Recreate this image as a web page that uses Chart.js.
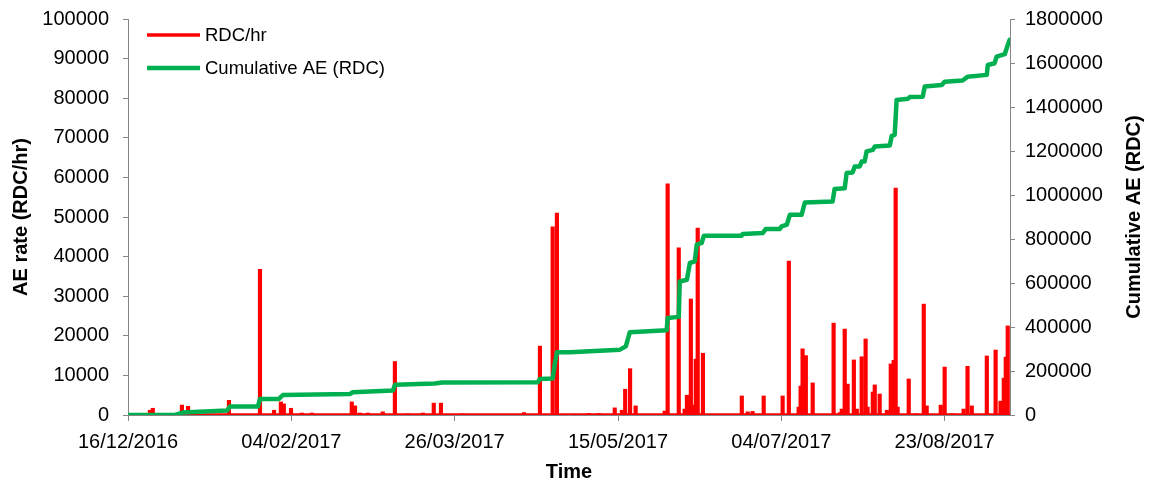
<!DOCTYPE html>
<html>
<head>
<meta charset="utf-8">
<script src="https://cdn.jsdelivr.net/npm/chart.js@4"></script>
<style>
  html, body { margin: 0; padding: 0; background: #fff; }
  #wrap { width: 1150px; height: 486px; position: relative; }
</style>
</head>
<body>
<div id="wrap"><canvas id="aeChart"></canvas></div>
<script>
// x values are days since 16/12/2016
const xTickDays = [0, 50, 100, 150, 200, 250];
const xTickLabels = ['16/12/2016', '04/02/2017', '26/03/2017', '15/05/2017', '04/07/2017', '23/08/2017'];

// AE rate spikes (RDC/hr)
const rateDays = [6.7, 7.6, 16.5, 18.4, 30.9, 40.4, 44.7, 46.8, 47.7, 49.9, 53.2, 56.3,
  68.5, 69.5, 71.0, 73.4, 78.0, 81.7, 85.7, 90.3, 93.6, 95.8, 102.5, 121.2, 126.1, 130.0, 131.3,
  141.1, 144.1, 149.0, 151.2, 152.2, 153.7, 155.4, 164.3, 165.2, 168.6, 170.4, 171.1, 172.3, 172.9,
  173.8, 174.4, 176.0, 187.9, 189.7, 191.2, 194.6, 200.4, 202.3, 205.3, 205.9, 206.5, 207.5, 209.6,
  216.0, 217.9, 218.5, 219.4, 220.3, 222.2, 223.1, 224.6, 225.8, 226.4, 228.0, 228.6, 230.1, 232.3,
  233.5, 234.4, 235.0, 235.6, 239.0, 241.4, 243.6, 244.5, 248.8, 250.0, 252.4, 255.8, 257.0, 258.3,
  262.9, 265.6, 267.1, 268.1, 268.7, 269.3];
const rateValues = [1200, 1700, 2500, 2200, 3700, 36800, 1200, 3300, 2800, 1700, 500, 500,
  3300, 2300, 500, 500, 800, 13500, 300, 500, 3000, 3000, 300, 600, 17400, 47500, 51000,
  400, 400, 1800, 1200, 6500, 11700, 2300, 1000, 58400, 42200, 1500, 5000, 29300, 2500,
  14100, 47200, 15600, 4800, 800, 900, 4800, 4800, 38900, 2000, 7300, 16700, 15000, 8100,
  23200, 600, 1500, 21700, 7800, 13900, 1500, 14700, 19200, 2000, 5800, 7600, 5300, 1200,
  12900, 13800, 57300, 2000, 9100, 300, 28000, 2300, 2500, 12100, 300, 1500, 12300, 2300,
  14900, 16400, 3500, 9300, 14600, 22500];
// background rate between events
const baseDays = [0, 270];
const baseValues = [0, 0];

// cumulative AE (RDC)
const cumDays = [0, 14.4, 16.8, 30.3, 31.2, 39.8, 40.4, 46.2, 47.4, 67.9, 68.8, 81.1, 81.7,
  93.9, 96.1, 125.5, 126.1, 130.0, 130.7, 131.3, 135.3, 150.6, 152.4, 153.6, 164.9, 165.2,
  168.6, 168.9, 171.1, 172.0, 173.5, 174.1, 175.6, 176.3, 187.9, 188.2, 194.3, 195.2, 199.5,
  200.1, 201.7, 202.6, 206.2, 207.2, 215.7, 216.3, 219.4, 220.0, 221.8, 222.5, 224.0, 224.6,
  225.5, 226.1, 228.0, 228.6, 233.2, 233.8, 234.7, 235.3, 238.7, 239.3, 243.3, 243.9, 249.1,
  250.0, 255.5, 257.0, 262.9, 263.2, 265.3, 265.9, 268.4, 269.3, 269.9];
const cumValues = [0, 0, 11000, 20000, 39000, 39000, 73000, 73000, 91000, 95000, 103500, 111000, 137000,
  143000, 147500, 149000, 164000, 166000, 237000, 285000, 285000, 297000, 312000, 376000, 385000, 441000,
  446000, 607000, 615000, 691000, 698000, 774000, 782000, 815000, 815000, 823000, 827000, 845000, 845000,
  857000, 865000, 910000, 910000, 966000, 971000, 1027000, 1031000, 1100000, 1102000, 1130000, 1130000, 1152000,
  1152000, 1198000, 1205000, 1220000, 1225000, 1269000, 1273000, 1432000, 1437000, 1445000, 1447000, 1493000, 1500000,
  1515000, 1520000, 1538000, 1546000, 1591000, 1599000, 1629000, 1640000, 1682000, 1705000];

const fontFamily = '"Liberation Sans", Arial, sans-serif';
Chart.defaults.font.family = fontFamily;
Chart.defaults.color = '#000';

const axisGrey = '#868686';

function xy(xs, ys) {
  return xs.map((x, i) => ({ x: x, y: ys[i] }));
}

// legend inside the plot + right axis title reading bottom to top
const overlayPlugin = {
  id: 'overlay',
  afterDatasetsDraw(chart) {
    const ctx = chart.ctx;
    const ds = chart.data.datasets;
    const items = [
      { text: ds[0].label, color: ds[0].backgroundColor, width: 3.5, y: 35 },
      { text: ds[2].label, color: ds[2].borderColor, width: 4.5, y: 68 }
    ];
    ctx.save();
    ctx.font = '18.5px ' + fontFamily;
    ctx.textBaseline = 'middle';
    ctx.textAlign = 'left';
    items.forEach(it => {
      ctx.strokeStyle = it.color;
      ctx.lineWidth = it.width;
      ctx.beginPath();
      ctx.moveTo(147, it.y);
      ctx.lineTo(200, it.y);
      ctx.stroke();
      ctx.fillStyle = '#000';
      ctx.fillText(it.text, 205, it.y + 1);
    });

    ctx.translate(1134, (chart.chartArea.top + chart.chartArea.bottom) / 2);
    ctx.rotate(-Math.PI / 2);
    ctx.font = 'bold 20px ' + fontFamily;
    ctx.textAlign = 'center';
    ctx.fillText('Cumulative AE (RDC)', 0, 0);
    ctx.restore();
  }
};

// fixed axis box sizes so the plot area lands where the original one is
function fixWidth(w) {
  return s => { s.width = w; s.paddingTop = 0; s.paddingBottom = 0; };
}

const ctx = document.getElementById('aeChart').getContext('2d');
const aeChart = new Chart(ctx, {
  type: 'line',
  data: {
    datasets: [{
      label: 'RDC/hr',
      type: 'bar',
      data: xy(rateDays, rateValues),
      backgroundColor: '#ff0000',
      borderWidth: 0,
      barThickness: 3.5,
      yAxisID: 'y',
      order: 2
    }, {
      label: 'RDC/hr baseline',
      data: xy(baseDays, baseValues),
      borderColor: '#ff0000',
      borderWidth: 3.5,
      pointRadius: 0,
      yAxisID: 'y',
      order: 3
    }, {
      label: 'Cumulative AE (RDC)',
      data: xy(cumDays, cumValues),
      borderColor: '#00b050',
      borderWidth: 4.5,
      borderJoinStyle: 'round',
      borderCapStyle: 'round',
      pointRadius: 0,
      tension: 0,
      yAxisID: 'y1',
      order: 1
    }]
  },
  options: {
    responsive: true,
    maintainAspectRatio: false,
    animation: false,
    layout: { padding: { top: 19, left: 0, right: 0, bottom: 0 } },
    plugins: {
      legend: { display: false },
      tooltip: { enabled: false }
    },
    scales: {
      x: {
        type: 'linear',
        min: 0,
        max: 270,
        offset: false,
        afterFit: s => { s.height = 71; },
        afterBuildTicks: s => { s.ticks = xTickDays.map(v => ({ value: v })); },
        ticks: {
          callback: v => xTickLabels[xTickDays.indexOf(v)],
          font: { size: 20 },
          padding: 9,
          maxRotation: 0,
          autoSkip: false
        },
        grid: { drawOnChartArea: false, offset: false, tickLength: 6, color: axisGrey },
        border: { color: axisGrey },
        title: {
          display: true,
          text: 'Time',
          font: { size: 20, weight: 'bold' },
          padding: { top: 0, bottom: 2 }
        }
      },
      y: {
        position: 'left',
        min: 0,
        max: 100000,
        afterFit: fixWidth(128),
        ticks: {
          stepSize: 10000,
          callback: v => String(v),
          font: { size: 20 },
          padding: 14
        },
        grid: { drawOnChartArea: false, tickLength: 5, color: axisGrey },
        border: { color: axisGrey },
        title: {
          display: true,
          text: 'AE rate (RDC/hr)',
          font: { size: 20, weight: 'bold' },
          padding: { top: 9, bottom: 0 }
        }
      },
      y1: {
        position: 'right',
        min: 0,
        max: 1800000,
        afterFit: fixWidth(140),
        ticks: {
          stepSize: 200000,
          callback: v => String(v),
          font: { size: 20 },
          padding: 10
        },
        grid: { drawOnChartArea: false, tickLength: 5, color: axisGrey },
        border: { color: axisGrey }
      }
    }
  },
  plugins: [overlayPlugin]
});
</script>
</body>
</html>
